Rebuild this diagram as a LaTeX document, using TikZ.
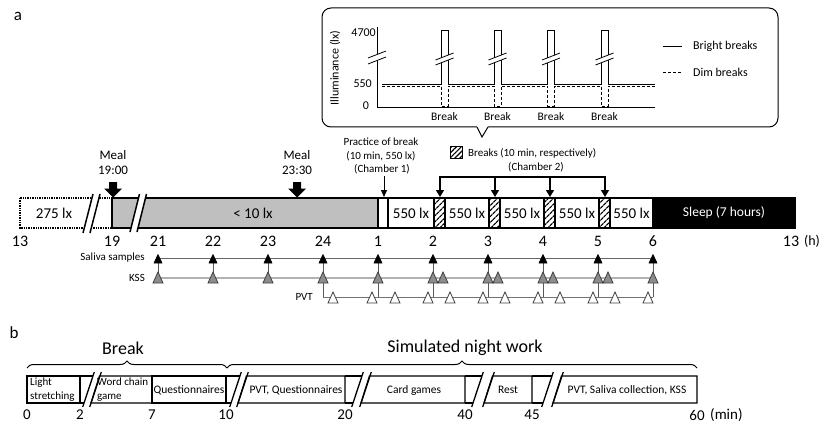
\documentclass[tikz,border=0pt]{standalone}
\usepackage{fontspec}
\setmainfont{Carlito}
\usetikzlibrary{arrows.meta,patterns.meta,decorations.pathreplacing}
\newcommand\fs[1]{\fontsize{#1}{#1}\selectfont}
% white gap between two parallel slashes: x1 bottom, y bottom, y top, dx, separation, line width
\newcommand\brkpair[6]{%
  \fill[white] (#1,#2) -- ({#1+#4},#3) -- ({#1+#4+#5},#3) -- ({#1+#5},#2) -- cycle;
  \draw[line width=#6] (#1,#2) -- ({#1+#4},#3) ({#1+#5},#2) -- ({#1+#4+#5},#3);}
% panel b gap: a (end of box), p1, p2 (slash x at box bottom)
\newcommand\gapb[3]{%
  \draw[bx] (#1,376) -- ({#2+8.5},376) (#1,403) -- (#2,403);
  \draw[bx] ({#2-1.3},407) -- ({#2+10.3},372);
  \draw[bx] ({#3-1.3},407) -- ({#3+10.3},372);}
\newcommand\boxb[2]{% p2, right x
  \draw[bx] (#1,403) -- ({#1+8.5},376) -- (#2,376) -- (#2,403) -- cycle;}
\begin{document}
\begin{tikzpicture}[x=1pt,y=-1pt,
  lbl/.style={inner sep=0pt,font=\fs{#1}},
  bar/.style={line width=1.4pt},
  bx/.style={line width=1.3pt},
  hatchbox/.style={bar,pattern={Lines[angle=45,distance=4pt,line width=1.3pt]}},
  tsal/.pic={\filldraw[fill=black,draw=black,line width=0.6pt] (-4,4) -- (0,-4.5) -- (4,4) -- cycle;},
  tkss/.pic={\filldraw[fill=black!45,draw=black!75,line width=0.8pt] (-5,5.5) -- (0,-5.5) -- (5,5.5) -- cycle;},
  tpvt/.pic={\filldraw[fill=white,draw=black!75,line width=0.8pt] (-5,5.5) -- (0,-5.5) -- (5,5.5) -- cycle;},
  blockarrow/.style={fill=black}
]
\useasboundingbox (0,0) rectangle (822,425);

% ---------- panel labels ----------
\node[lbl=17,name=pa] at (18,16) {a};
\node[lbl=17,name=pb] at (14,333) {b};

% ---------- callout ----------
\draw[line width=1pt,rounded corners=9] (322,8) rectangle (778,127);
\fill[white] (477,125) -- (477,127.8) -- (482,137) -- (488,127.8) -- (488,125) -- cycle;
\draw[line width=1pt] (477,127) -- (482,137) -- (488,127);
\draw[line width=1pt] (377,27) -- (377,108) -- (655,108);
\fill[white] (368,58) -- (386,51) -- (386,57) -- (368,64) -- cycle;
\draw[line width=0.8pt] (368,58) -- (386,51) (368,64) -- (386,57);
\node[lbl=12,rotate=90,name=ylab] at (335,68) {Illuminance (lx)};
\node[lbl=12,anchor=east,name=t4700] at (376,33) {4700};
\node[lbl=12,anchor=east,name=t550] at (372,84) {550};
\node[lbl=12,name=t0] at (366,106) {0};
% dim (dashed) profile
\draw[line width=0.9pt,densely dashed]
  (382,86) -- (441,86) -- (441,106) -- (448,106) -- (448,86)
  -- (494,86) -- (494,106) -- (501,106) -- (501,86)
  -- (547.5,86) -- (547.5,106) -- (554.5,106) -- (554.5,86)
  -- (601,86) -- (601,106) -- (608,106) -- (608,86) -- (655,86);
% bright (solid) profile
\draw[line width=0.9pt]
  (382,84) -- (441,84) -- (441,30) -- (448,30) -- (448,84)
  -- (494,84) -- (494,30) -- (501,30) -- (501,84)
  -- (547.5,84) -- (547.5,30) -- (554.5,30) -- (554.5,84)
  -- (601,84) -- (601,30) -- (608,30) -- (608,84) -- (655,84);
\foreach \c in {444.5,497.5,551,604.5}{
  \fill[white] ({\c-9},60) -- ({\c+9},53) -- ({\c+9},58) -- ({\c-9},65) -- cycle;
  \draw[line width=0.8pt] ({\c-9},60) -- ({\c+9},53) ({\c-9},65) -- ({\c+9},58);
}
\foreach \c/\n in {444.5/1,497.5/2,551/3,604.5/4}
  \node[lbl=11.5,name=brk\n] at (\c,117) {Break};
\draw[line width=0.9pt] (663,46) -- (682,46);
\node[lbl=12,anchor=west,name=lgb] at (693,46) {Bright breaks};
\draw[line width=0.9pt,densely dashed] (663,72) -- (682,72);
\node[lbl=12,anchor=west,name=lgd] at (693,72) {Dim breaks};

% ---------- main bar ----------
\draw[bar,densely dotted] (20,198) rectangle (112,228);
\node[lbl=15,name=l275] at (54,213) {275 lx};
\brkpair{83}{233}{194}{10}{7}{1.5pt}
\filldraw[bar,fill=black!25] (112,198) rectangle (378,228);
\brkpair{130}{232}{194}{9.5}{7}{1.5pt}
\node[lbl=15,name=l10] at (253,213) {< 10 lx};
\draw[bar,fill=white] (378,198) rectangle (388,228);
\foreach \a/\b in {388/434,445/489,500/544,555/599,610/653}
  \draw[bar,fill=white] (\a,198) rectangle (\b,228);
\foreach \a/\b in {434/445,489/500,544/555,599/610}
  \draw[hatchbox] (\a,198) rectangle (\b,228);
\foreach \c/\n in {411/1,467/2,522/3,577/4,631.5/5}
  \node[lbl=15,name=l550\n] at (\c,213) {550 lx};
\filldraw[bar,fill=black] (653,198) rectangle (795,228);
\node[lbl=13.5,text=white,name=sleep] at (724,213) {Sleep (7 hours)};

% hours
\foreach \x/\t [count=\i] in {20/13,112/19,158/21,213/22,268/23,323/24,378/1,433/2,488/3,543/4,598/5,653/6}
  \node[lbl=16,name=hr\i] at (\x,241) {\t};
\node[lbl=16,name=hend] at (791,241) {13};
\node[lbl=14,name=hunit] at (812,241) {(h)};

% meals
\foreach \x in {113,297}
  \fill[blockarrow] (\x-4,182) -- (\x+4,182) -- (\x+4,188.5) -- (\x+9,188.5) -- (\x,197.5) -- (\x-9,188.5) -- (\x-4,188.5) -- cycle;
\node[lbl=13,name=meal1] at (113,155) {Meal};
\node[lbl=13,name=time1] at (113,170) {19:00};
\node[lbl=13,name=meal2] at (297,155) {Meal};
\node[lbl=13,name=time2] at (297,170) {23:30};

% practice
\node[lbl=11,name=pr1] at (381,142) {Practice of break};
\node[lbl=11,name=pr2] at (381,156) {(10 min, 550 lx)};
\node[lbl=11,name=pr3] at (382,169) {(Chamber 1)};
\draw[line width=1pt,-{Triangle[width=6pt,length=7pt]}] (384,176) -- (384,197);

% breaks legend and bracket
\draw[line width=1pt,pattern={Lines[angle=45,distance=3.5pt,line width=1.2pt]}] (450,147) rectangle (462,159);
\node[lbl=11,anchor=west,name=brlg] at (468,153) {Breaks (10 min, respectively)};
\node[lbl=11,name=ch2] at (536,167) {(Chamber 2)};
\draw[line width=1.3pt] (440,177) -- (605,177);
\foreach \x in {440,495,550,605}
  \draw[line width=1.3pt,-{Triangle[width=8pt,length=7pt]}] (\x,176.4) -- (\x,197);

% ---------- measurement rows ----------
\node[lbl=11,anchor=east,name=sal] at (145,258) {Saliva samples};
\node[lbl=11,anchor=east,name=kss] at (145,278) {KSS};
\node[lbl=11,anchor=east,name=pvt] at (313,297) {PVT};
\draw[black!60,line width=0.8pt] (158,258) -- (653,258);
\draw[black!30,line width=1.6pt] (158,278) -- (653,278);
\draw[black!55,line width=0.8pt] (323,297) -- (653,297);
\foreach \x in {158,213,...,653}
  \draw[black!65,line width=0.8pt] (\x,262) -- (\x,273);
\foreach \x in {323,378,...,653}
  \draw[black!65,line width=0.8pt] (\x,282) -- (\x,297);
\foreach \x in {158,213,...,653} \pic at (\x,259) {tsal};
\foreach \x in {158,213,...,653} \pic at (\x,277.5) {tkss};
\foreach \x in {443,498,553,608} \pic at (\x,277.5) {tkss};
\foreach \x in {333,372,395,428,450,483,505,538,560,593,615,648} \pic at (\x,297.5) {tpvt};

% ---------- panel b ----------
\node[lbl=18,name=tbreak] at (123,348) {Break};
\node[lbl=18,name=tsim] at (465,348) {Simulated night work};
\draw[line width=1pt,decorate,decoration={brace,amplitude=7pt}] (27,368) -- (227,368);
\draw[line width=1pt,decorate,decoration={brace,amplitude=7pt}] (227,368) -- (697,368);

\draw[bx] (27,376) rectangle (80,403);
\gapb{80}{84}{91}
\boxb{91}{152}
\draw[bx] (152,376) rectangle (226,403);
\gapb{226}{231}{238}
\boxb{238}{345}
\gapb{345}{353}{361}
\boxb{361}{465}
\gapb{465}{473}{484}
\boxb{484}{532}
\gapb{532}{543}{553}
\boxb{553}{697}

\node[inner sep=0pt,anchor=west,align=left,font=\fontsize{11}{14}\selectfont,name=bls] at (30,390) {Light\\stretching};
\node[inner sep=0pt,anchor=west,align=left,font=\fontsize{11}{14}\selectfont,name=bwc] at (97,390) {Word chain\\game};
\node[lbl=11.5,name=bq] at (189,390) {Questionnaires};
\node[lbl=11.5,name=bpq] at (296,390) {PVT, Questionnaires};
\node[lbl=11.5,name=bcg] at (414,390) {Card games};
\node[lbl=11.5,name=brest] at (508,390) {Rest};
\node[lbl=11.5,name=bpsk] at (627,390) {PVT, Saliva collection, KSS};

\foreach \x/\t [count=\i] in {27/0,80/2,152/7,226/10,345/20,465/40,532/45,697/60}
  \node[lbl=15,name=m\i] at (\x,415) {\t};
\node[lbl=15,anchor=west,name=munit] at (710,415) {(min)};
\end{tikzpicture}
\end{document}
